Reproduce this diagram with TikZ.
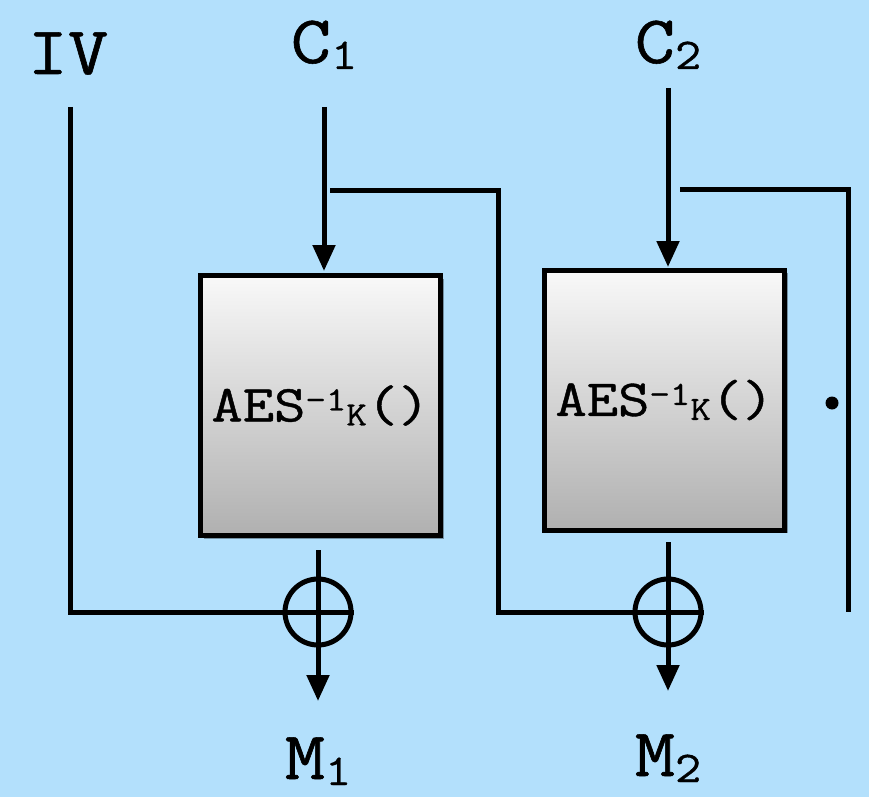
\documentclass[tikz,border=0pt]{standalone}
\usepackage{fontspec}
\setmonofont{Latin Modern Mono}[FakeBold=0.8]
\usetikzlibrary{arrows.meta,shadows}
\definecolor{bg}{HTML}{B3E0FC}
\newcommand\wide[1]{\scalebox{1.15}[1]{#1}}
\begin{document}
\begin{tikzpicture}[x=1pt,y=-1pt,line width=5pt,
  lbl/.style={font=\ttfamily\fontsize{68}{68}\selectfont, inner sep=0pt, anchor=base},
  aesbox/.style={draw, line width=5pt, minimum width=240pt, minimum height=260pt,
    top color=gray!5, bottom color=gray!62,
    drop shadow={shadow xshift=3pt, shadow yshift=-3pt, opacity=0.35, fill=black},
    inner sep=0pt, font=\ttfamily\fontsize{52}{52}\selectfont},
  xor/.style={circle, draw, line width=5pt, minimum size=66pt, inner sep=0pt},
  arr/.style={-{Triangle[width=22pt,length=26pt]}}]
\fill[bg] (0,0) rectangle (869,797);
\useasboundingbox (0,0) rectangle (869,797);

% labels
\node[lbl] (iv) at (68,74) {\wide{IV}};
\node[lbl] (c1) at (324,63) {\wide{C\raisebox{-6pt}{\fontsize{44}{44}\selectfont 1}}};
\node[lbl] (c2) at (668,63) {\wide{C\raisebox{-6pt}{\fontsize{44}{44}\selectfont 2}}};
\node[lbl] (m1) at (318,779) {\wide{M\raisebox{-6pt}{\fontsize{44}{44}\selectfont 1}}};
\node[lbl] (m2) at (668,776) {\wide{M\raisebox{-6pt}{\fontsize{44}{44}\selectfont 2}}};

% boxes
\node[aesbox] (b1) at (320.5,405.5) {\scalebox{1.17}[1]{AES\raisebox{11pt}{\fontsize{34}{34}\selectfont -1}\raisebox{-4pt}{\fontsize{34}{34}\selectfont K}()}};
\node[aesbox] (b2) at (664.5,400) {\scalebox{1.17}[1]{AES\raisebox{11pt}{\fontsize{34}{34}\selectfont -1}\raisebox{-4pt}{\fontsize{34}{34}\selectfont K}()}};

% xors
\node[xor] (x1) at (318,612) {};
\node[xor] (x2) at (668,612) {};
\draw (x1.west) -- (x1.east);
\draw (x2.west) -- (x2.east);

% coordinates
\coordinate (ivtop) at (70,107);
\coordinate (ivbot) at (70,612);
\coordinate (c1top) at (324,107);
\coordinate (c1in) at (324,271);
\coordinate (c1br) at (330,190.5);
\coordinate (r1a) at (498.5,190.5);
\coordinate (r1b) at (498.5,612);
\coordinate (c2top) at (668,88);
\coordinate (c2in) at (668,267);
\coordinate (c2br) at (680,189);
\coordinate (r2a) at (848,189);
\coordinate (r2b) at (848,612);
\coordinate (o1) at (318,550);
\coordinate (o1t) at (318,701);
\coordinate (o2) at (668,542);
\coordinate (o2t) at (668,691);

% connectors
\draw (ivtop) -- (ivbot) -- (x1.west);
\draw[arr] (c1top) -- (c1in);
\draw (c1br) -- (r1a) -- (r1b) -- (x2.west);
\draw[arr] (c2top) -- (c2in);
\draw (c2br) -- (r2a) -- (r2b);
\draw[arr] (o1) -- (o1t);
\draw[arr] (o2) -- (o2t);

% dot
\fill (832,403) circle (6.5pt);
\end{tikzpicture}
\end{document}
